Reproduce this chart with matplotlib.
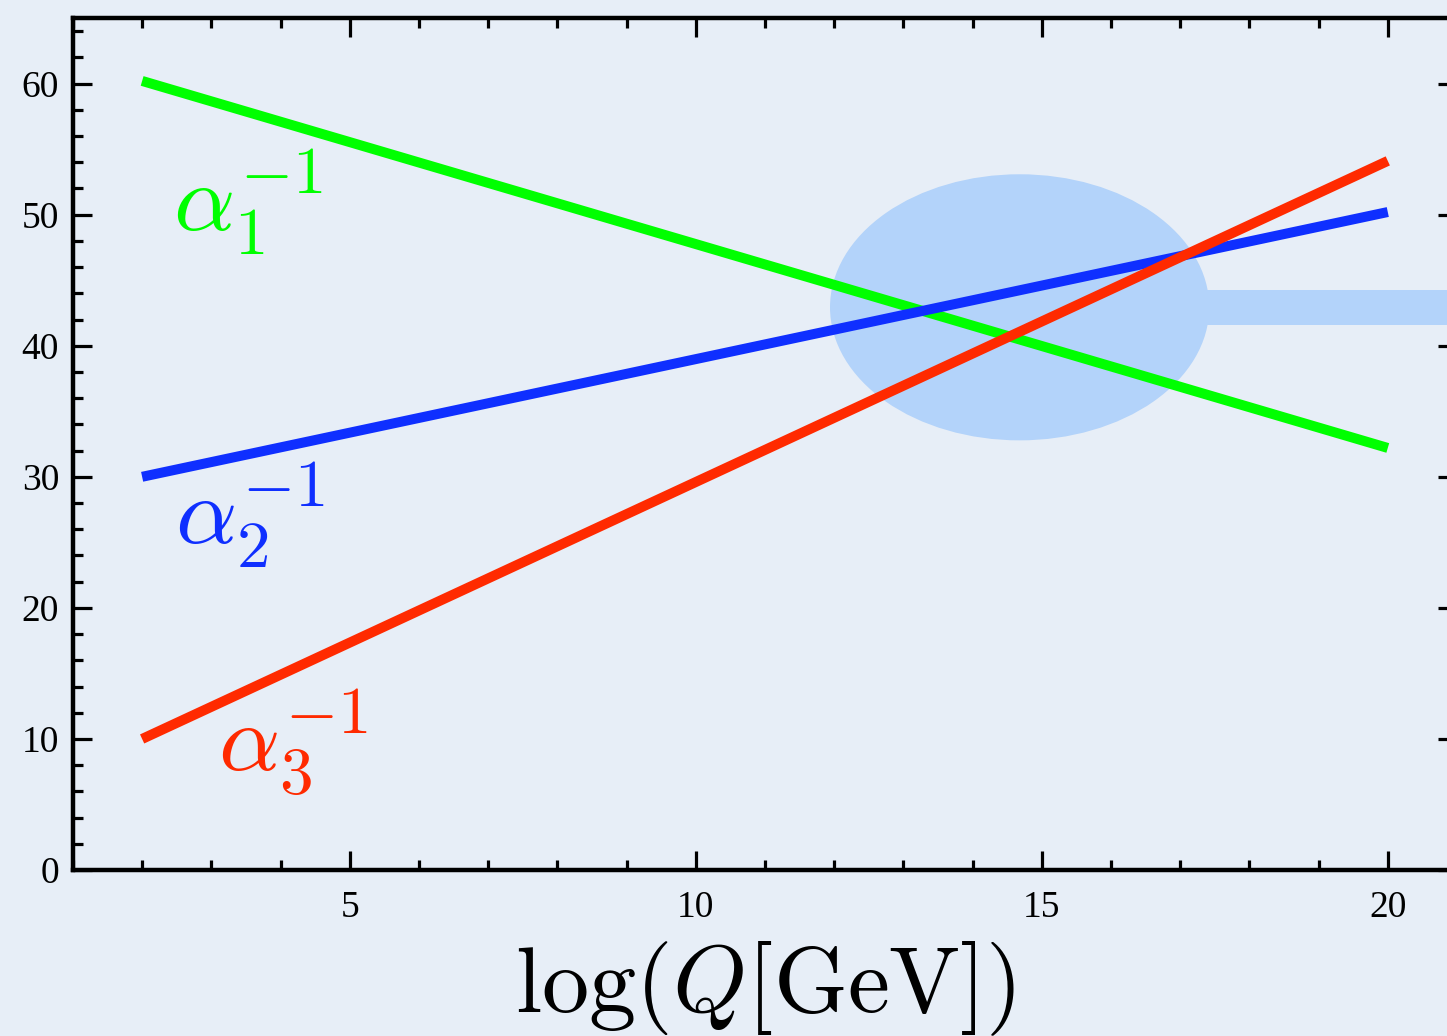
import matplotlib
matplotlib.use("Agg")
import matplotlib.pyplot as plt
from matplotlib.patches import Ellipse, Rectangle
from matplotlib.ticker import MultipleLocator

# ---- data ----
log_q = [2, 20]
alpha1_inv = [60.2, 32.2]
alpha2_inv = [30.0, 50.2]
alpha3_inv = [10.0, 54.1]
x_ticks = [5, 10, 15, 20]
y_ticks = [0, 10, 20, 30, 40, 50, 60]
unification_center = (14.68, 42.93)
unification_size = (5.48, 20.3)
band_y = (41.6, 44.26)

labels = [r'$\alpha_1^{-1}$', r'$\alpha_2^{-1}$', r'$\alpha_3^{-1}$']
label_pos = [(2.45, 48.8), (2.47, 24.9), (3.1, 7.6)]
colors = ['#00ff00', '#0f2fff', '#ff2a00']

bg = '#e7eef7'
blob = '#b3d3fa'

plt.rcParams['mathtext.fontset'] = 'cm'

fig = plt.figure(figsize=(14.47, 10.36), dpi=100, facecolor=bg)
ax = fig.add_axes([0.0504, 0.1602, 0.9565, 0.8224])
ax.set_facecolor(bg)

ax.add_patch(Ellipse(unification_center, unification_size[0], unification_size[1],
                     facecolor=blob, edgecolor='none', zorder=1))
ax.add_patch(Rectangle((unification_center[0], band_y[0]), 21 - unification_center[0],
                       band_y[1] - band_y[0], facecolor=blob, edgecolor='none', zorder=1))

for ys, c in zip([alpha1_inv, alpha2_inv, alpha3_inv], colors):
    ax.plot(log_q, ys, color=c, lw=7.2, solid_capstyle='butt', zorder=3)

for lab, (lx, ly), c in zip(labels, label_pos, colors):
    ax.text(lx, ly, lab, color=c, fontsize=69, ha='left', va='baseline', zorder=4)

ax.set_xlim(1, 21)
ax.set_ylim(0, 65)
ax.set_xticks(x_ticks)
ax.set_yticks(y_ticks)
ax.xaxis.set_minor_locator(MultipleLocator(1))
ax.yaxis.set_minor_locator(MultipleLocator(2))

for s in ax.spines.values():
    s.set_linewidth(3.2)
    s.set_zorder(5)

ax.tick_params(which='both', direction='in', top=True, right=True, width=2.3)
ax.tick_params(which='major', length=13.5)
ax.tick_params(which='minor', length=7)
ax.tick_params(axis='x', which='major', pad=15, labelsize=27)
ax.tick_params(axis='y', which='major', pad=10, labelsize=27)
for t in ax.get_xticklabels() + ax.get_yticklabels():
    t.set_fontfamily('Liberation Serif')

ax.set_xlabel(r'$\log(Q[\mathrm{GeV}])$', fontsize=68, labelpad=10)

fig.savefig('out.png', dpi=100, facecolor=bg)
